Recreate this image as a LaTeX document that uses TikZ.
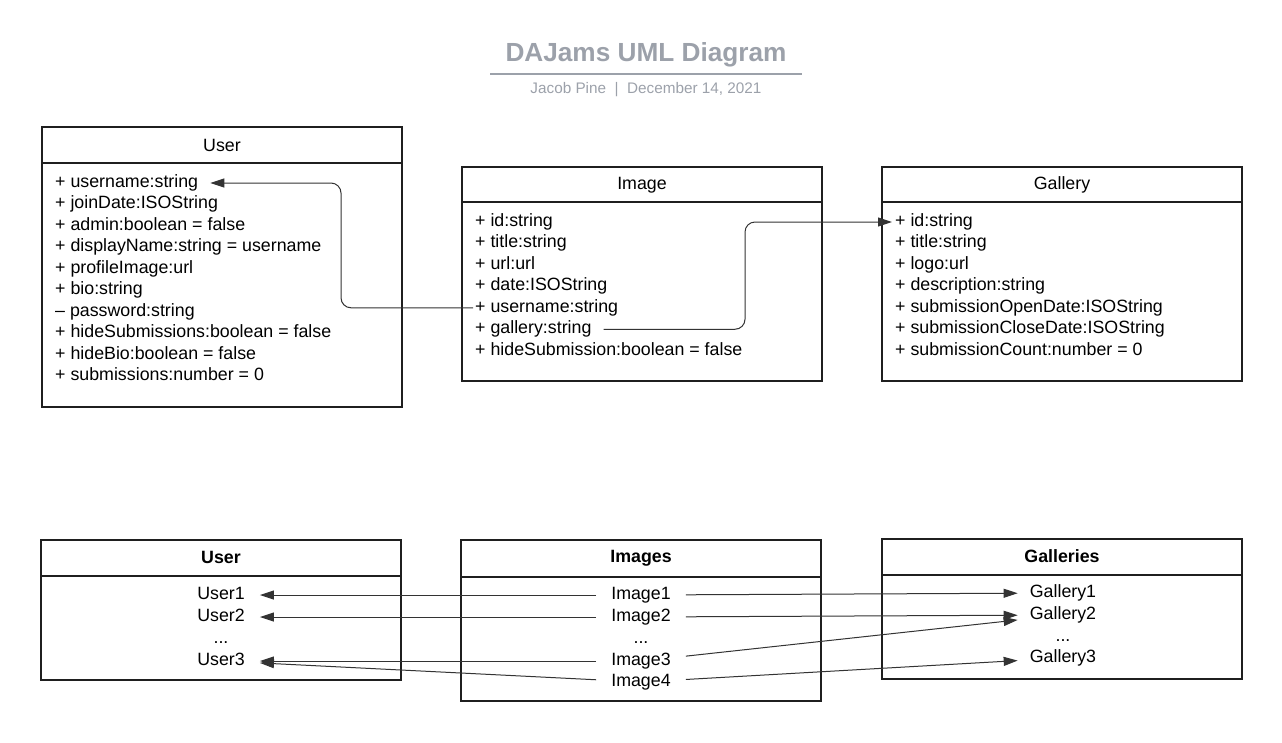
\documentclass[tikz,border=0pt]{standalone}
\usepackage{fontspec}
\setmainfont{Liberation Sans}
\usetikzlibrary{arrows.meta}
\definecolor{titlegray}{HTML}{9CA1AA}
\definecolor{linkgray}{HTML}{333333}
\def\rowstep{21.45}

\begin{document}
\begin{tikzpicture}[x=1pt,y=-1pt,
  box/.style={draw=black!88,line width=1.6pt,minimum width=360pt,inner sep=0pt},
  head/.style={font=\fontsize{17.8}{20}\selectfont},
  attr/.style={anchor=west,inner sep=2pt,text height=13pt,text depth=4pt,font=\fontsize{17.8}{20}\selectfont},
  item/.style={inner xsep=15pt,inner ysep=1pt,text height=13pt,text depth=4pt,font=\fontsize{17.8}{20}\selectfont},
  link/.style={draw=linkgray,line width=1pt,-{Triangle[length=14pt,width=9pt]}}]
  \useasboundingbox (0,0) rectangle (1282,742);

  % title
  \node[text=titlegray,font=\bfseries\fontsize{26.2}{29}\selectfont,minimum width=311pt,
        inner xsep=0pt,inner ysep=8pt,text height=19pt,text depth=5pt] (title) at (646,54) {DAJams UML Diagram};
  \draw[titlegray,line width=1.5pt] (title.south west) -- (title.south east);
  \node[text=titlegray,font=\fontsize{15.3}{17}\selectfont] (byline) at (646,90) {Jacob Pine~~|~~December 14, 2021};

  % class boxes
  \node[box,minimum height=280pt] (user) at (222,267) {};
  \node[head] (user-h) at (222,145) {User};
  \draw[box] ([yshift=-37pt]user.north west) -- ([yshift=-37pt]user.north east);
  \foreach \txt [count=\i] in {+ username:string,+ joinDate:ISOString,+ admin:boolean = false,
      + displayName:string = username,+ profileImage:url,+ bio:string,\textendash{} password:string,
      + hideSubmissions:boolean = false,+ hideBio:boolean = false,+ submissions:number = 0}
    \node[attr] (u\i) at (53,183+\rowstep*\i-\rowstep) {\txt};

  \node[box,minimum height=214pt] (image) at (642,274) {};
  \node[head] (image-h) at (642,185) {Image};
  \draw[box] ([yshift=-36pt]image.north west) -- ([yshift=-36pt]image.north east);
  \foreach \txt [count=\i] in {+ id:string,+ title:string,+ url:url,+ date:ISOString,
      + username:string,+ gallery:string,+ hideSubmission:boolean = false}
    \node[attr] (i\i) at (473,222+\rowstep*\i-\rowstep) {\txt};

  \node[box,minimum height=214pt] (gallery) at (1062,274) {};
  \node[head] (gallery-h) at (1062,185) {Gallery};
  \draw[box] ([yshift=-36pt]gallery.north west) -- ([yshift=-36pt]gallery.north east);
  \foreach \txt [count=\i] in {+ id:string,+ title:string,+ logo:url,+ description:string,
      + submissionOpenDate:ISOString,+ submissionCloseDate:ISOString,+ submissionCount:number = 0}
    \node[attr] (g\i) at (893,222+\rowstep*\i-\rowstep) {\txt};

  \draw[link,rounded corners=10pt] (i5.west) -- ++(-132,0) |- ([xshift=10pt]u1.east);
  \draw[link,rounded corners=10pt] ([xshift=10pt]i6.east) -| ([xshift=-148pt]g1.west) -- ([xshift=-1pt]g1.west);

  % tables
  \node[box,minimum height=140pt] (users) at (221,610) {};
  \node[head,font=\bfseries\fontsize{17.8}{20}\selectfont] (users-h) at (221,557) {User};
  \draw[box] ([yshift=-37pt]users.north west) -- ([yshift=-37pt]users.north east);
  \node[item] (bu1) at (221,595) {User1};
  \node[item] (bu2) at (221,617) {User2};
  \node[item] (bu-dots) at (221,639) {...};
  \node[item] (bu3) at (221,661) {User3};

  \node[box,minimum height=161pt] (images) at (641,620.5) {};
  \node[head,font=\bfseries\fontsize{17.8}{20}\selectfont] (images-h) at (641,558) {Images};
  \draw[box] ([yshift=-38pt]images.north west) -- ([yshift=-38pt]images.north east);
  \node[item] (bi1) at (641,595) {Image1};
  \node[item] (bi2) at (641,617) {Image2};
  \node[item] (bi-dots) at (641,639) {...};
  \node[item] (bi3) at (641,661) {Image3};
  \node[item] (bi4) at (641,682) {Image4};

  \node[box,minimum height=140pt] (galleries) at (1062,609) {};
  \node[head,font=\bfseries\fontsize{17.8}{20}\selectfont] (galleries-h) at (1062,556) {Galleries};
  \draw[box] ([yshift=-37pt]galleries.north west) -- ([yshift=-37pt]galleries.north east);
  \node[item,inner xsep=12pt] (bg1) at (1063,593) {Gallery1};
  \node[item,inner xsep=12pt] (bg2) at (1063,615) {Gallery2};
  \node[item] (bg-dots) at (1063,637) {...};
  \node[item,inner xsep=12pt] (bg3) at (1063,658) {Gallery3};

  \draw[link] (bi1) -- (bu1);
  \draw[link] (bi2) -- (bu2);
  \draw[link] (bi3) -- (bu3);
  \draw[link] (bi4) -- (bu3);
  \draw[link] (bi1) -- (bg1);
  \draw[link] (bi2) -- (bg2);
  \draw[link] (bi3) -- (bg2);
  \draw[link] (bi4) -- (bg3);
\end{tikzpicture}
\end{document}
